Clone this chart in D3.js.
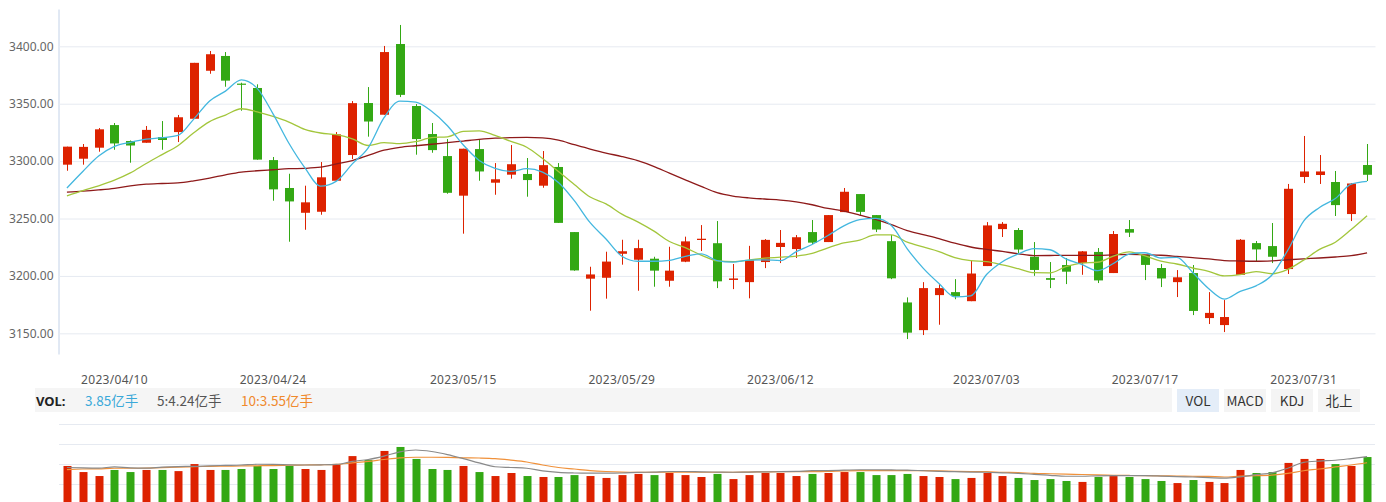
<!DOCTYPE html>
<html><head><meta charset="utf-8">
<script src="https://cdn.jsdelivr.net/npm/d3@7"></script>
<style>
body{margin:0;background:#fff;}
svg{display:block;font-family:"Noto Sans","Noto Sans CJK SC",sans-serif;}
</style>
</head><body>
<svg id="chart" width="1386" height="502"></svg>
<script>
const dates = ["2023/04/04","2023/04/06","2023/04/07","2023/04/10","2023/04/11","2023/04/12","2023/04/13","2023/04/14","2023/04/17","2023/04/18","2023/04/19","2023/04/20","2023/04/21","2023/04/24","2023/04/25","2023/04/26","2023/04/27","2023/04/28",
"2023/05/04","2023/05/05","2023/05/08","2023/05/09","2023/05/10","2023/05/11","2023/05/12","2023/05/15","2023/05/16","2023/05/17","2023/05/18","2023/05/19","2023/05/22","2023/05/23","2023/05/24","2023/05/25","2023/05/26","2023/05/29","2023/05/30","2023/05/31",
"2023/06/01","2023/06/02","2023/06/05","2023/06/06","2023/06/07","2023/06/08","2023/06/09","2023/06/12","2023/06/13","2023/06/14","2023/06/15","2023/06/16","2023/06/19","2023/06/20","2023/06/21","2023/06/26","2023/06/27","2023/06/28","2023/06/29","2023/06/30",
"2023/07/03","2023/07/04","2023/07/05","2023/07/06","2023/07/07","2023/07/10","2023/07/11","2023/07/12","2023/07/13","2023/07/14","2023/07/17","2023/07/18","2023/07/19","2023/07/20","2023/07/21","2023/07/24","2023/07/25","2023/07/26","2023/07/27","2023/07/28","2023/07/31",
"2023/08/01","2023/08/02","2023/08/03","2023/08/04"];

const openP = [3296.9,3302.1,3311.7,3331.4,3317.5,3316.0,3321.0,3325.3,3336.9,3378.7,3391.6,3367.5,3363.7,3300.9,3276.6,3255.0,3255.9,3282.9,
3305.3,3350.6,3340.4,3402.0,3348.0,3323.6,3304.4,3269.9,3310.5,3281.2,3288.2,3288.8,3278.6,3294.9,3238.2,3197.6,3198.4,3219.3,3214.1,3215.0,
3195.8,3212.4,3231.3,3228.5,3196.5,3194.6,3212.1,3225.2,3223.4,3238.2,3229.5,3255.6,3271.3,3253.0,3230.3,3176.9,3152.8,3183.3,3185.9,3178.0,
3208.6,3240.8,3240.0,3216.7,3198.1,3209.5,3211.2,3220.9,3202.5,3240.8,3218.2,3206.9,3194.6,3202.5,3163.3,3157.2,3200.9,3228.6,3226.0,3206.0,3286.2,
3287.9,3281.8,3253.9,3296.6];
const highP = [3312.6,3314.9,3328.8,3333.2,3318.0,3330.6,3334.9,3340.2,3385.6,3395.9,3395.0,3368.3,3366.9,3303.6,3289.0,3278.6,3299.2,3325.3,
3352.3,3364.5,3400.3,3418.6,3349.7,3333.2,3319.2,3310.8,3319.2,3298.3,3314.0,3302.7,3308.8,3298.3,3238.2,3208.0,3221.1,3231.5,3231.5,3216.7,
3225.4,3234.2,3244.3,3247.8,3210.4,3226.2,3232.1,3240.0,3235.6,3248.7,3253.0,3276.6,3271.3,3253.0,3235.6,3181.3,3194.6,3192.9,3197.2,3213.0,
3246.9,3246.9,3241.7,3229.5,3212.1,3215.6,3221.7,3224.3,3239.1,3248.7,3218.2,3210.4,3205.1,3209.5,3185.9,3179.0,3232.1,3230.4,3246.1,3280.1,3321.9,
3305.3,3291.4,3280.9,3314.9];
const lowP = [3291.6,3296.9,3308.2,3309.9,3298.6,3316.0,3309.9,3316.6,3336.9,3376.1,3364.8,3343.9,3301.2,3265.5,3229.8,3240.2,3253.3,3282.9,
3301.8,3321.3,3340.4,3355.8,3305.6,3307.3,3271.6,3236.8,3282.9,3270.7,3284.7,3269.0,3276.8,3246.2,3204.5,3169.7,3180.2,3209.8,3187.1,3190.6,
3190.6,3212.0,3221.7,3189.4,3188.5,3180.5,3206.8,3211.2,3215.6,3227.8,3229.5,3255.6,3252.2,3238.2,3197.2,3145.0,3148.5,3157.5,3179.7,3178.0,
3208.6,3233.9,3220.0,3200.1,3189.4,3192.9,3201.0,3193.8,3202.5,3233.9,3196.4,3190.3,3181.6,3165.9,3158.1,3151.1,3200.9,3213.0,3211.2,3201.7,3280.9,
3280.1,3252.2,3247.8,3282.7];
const closeP = [3312.6,3312.4,3327.7,3315.4,3313.6,3327.2,3318.4,3338.2,3385.6,3393.1,3370.1,3367.0,3301.3,3275.4,3264.9,3264.1,3285.9,3323.3,
3350.5,3334.5,3395.0,3357.7,3319.2,3309.6,3272.4,3310.8,3291.0,3284.2,3297.3,3283.5,3296.5,3246.2,3204.8,3201.3,3212.5,3221.5,3224.2,3204.6,
3204.6,3230.1,3232.4,3195.3,3197.8,3213.6,3231.4,3228.8,3233.7,3229.0,3253.0,3273.3,3255.8,3240.4,3197.9,3150.6,3189.4,3189.4,3182.4,3202.1,
3244.0,3245.4,3223.0,3205.2,3196.6,3203.7,3221.4,3196.1,3236.5,3237.7,3209.6,3197.8,3198.8,3169.5,3167.8,3164.2,3231.5,3223.1,3216.7,3275.9,3291.0,
3291.0,3261.7,3280.5,3288.1];

const ma5 = [3276.6,3291.0,3304.4,3312.8,3316.4,3319.2,3320.4,3322.4,3336.6,3352.4,3361.0,3370.8,3363.4,3341.2,3315.6,3294.4,3278.2,3282.6,3297.6,3311.6,
3337.8,3352.2,3351.4,3343.4,3330.8,3314.0,3300.6,3293.6,3291.0,3293.4,3290.4,3281.4,3265.6,3246.4,3232.2,3217.2,3212.8,3212.8,3213.6,3217.0,
3219.2,3213.4,3212.0,3213.8,3214.0,3213.4,3221.2,3227.4,3235.2,3243.6,3249.0,3250.2,3244.0,3223.6,3206.8,3193.4,3181.8,3182.6,3201.2,3212.4,
3219.2,3223.8,3222.8,3214.8,3210.0,3204.6,3210.8,3219.0,3220.2,3215.6,3216.2,3203.0,3189.0,3179.8,3186.6,3191.4,3200.8,3222.4,3247.8,3259.6,
3267.4,3280.0,3282.4];
const ma10 = [3269.8,3274.4,3278.5,3283.4,3289.7,3297.9,3305.7,3313.4,3324.7,3334.4,3340.1,3345.6,3342.9,3338.9,3334.0,3327.7,3324.5,3323.0,3319.4,3313.6,
3316.1,3315.2,3317.0,3320.5,3321.2,3325.9,3326.4,3322.5,3317.2,3312.1,3302.2,3291.0,3279.6,3268.7,3262.8,3253.8,3247.1,3239.2,3230.0,3224.6,
3218.2,3213.1,3212.4,3213.7,3215.5,3216.3,3217.3,3219.7,3224.5,3228.8,3231.2,3235.7,3235.7,3229.4,3225.2,3221.2,3216.0,3213.3,3212.4,3209.6,
3206.3,3202.8,3202.7,3208.0,3211.2,3211.9,3217.3,3220.9,3217.5,3212.8,3210.4,3206.9,3204.0,3200.0,3201.1,3203.8,3201.9,3205.7,3213.8,3223.1,
3229.4,3240.4,3252.4];
const ma30 = [3273.0,3273.8,3274.9,3276.3,3278.5,3279.9,3280.5,3281.0,3282.8,3285.2,3288.1,3290.5,3291.6,3292.5,3293.4,3293.7,3294.7,3297.6,3300.5,3305.0,
3309.5,3312.0,3313.4,3314.7,3316.1,3317.5,3318.9,3320.0,3320.5,3320.7,3320.2,3318.2,3314.3,3310.5,3307.0,3304.0,3300.4,3295.5,3289.5,3283.7,
3278.0,3272.6,3269.6,3268.0,3267.0,3266.1,3264.5,3262.0,3258.8,3256.5,3253.0,3249.2,3244.7,3239.5,3236.0,3232.5,3228.5,3225.2,3223.1,3221.3,
3219.3,3217.7,3217.8,3217.9,3217.9,3217.9,3218.4,3218.8,3218.4,3218.0,3217.0,3215.9,3214.8,3213.4,3213.0,3212.8,3213.2,3214.1,3214.9,3215.6,
3216.5,3217.6,3220.0];

// volume, 亿手
const volume = [3.37,3.05,2.84,3.16,3.05,3.16,3.16,3.10,3.47,3.16,3.16,3.21,3.37,3.21,3.37,3.21,3.16,3.47,3.89,3.68,
4.16,4.37,3.74,3.21,3.16,3.37,3.05,2.84,3.00,2.84,2.79,2.79,2.89,2.84,2.74,2.89,2.95,2.89,3.00,2.89,
2.79,2.95,2.68,2.89,3.00,3.00,2.84,2.95,3.00,3.05,3.05,2.89,2.89,2.95,2.84,2.79,2.68,2.74,3.00,2.84,
2.74,2.63,2.68,2.58,2.53,2.79,2.84,2.79,2.68,2.58,2.47,2.63,2.53,2.47,3.16,3.00,3.05,3.53,3.74,3.74,
3.47,3.37,3.84];
const volMa5 = [3.29,3.27,3.26,3.32,3.27,3.26,3.31,3.34,3.35,3.38,3.40,3.42,3.46,3.45,3.43,3.42,3.43,3.45,3.61,3.71,
3.89,4.11,4.21,4.13,3.97,3.76,3.53,3.33,3.29,3.25,3.11,3.03,3.00,2.99,2.99,3.00,3.03,3.05,3.08,3.08,
3.06,3.05,3.04,3.05,3.06,3.07,3.09,3.12,3.13,3.15,3.17,3.17,3.16,3.15,3.12,3.09,3.07,3.05,3.04,3.01,
2.98,2.93,2.88,2.83,2.83,2.85,2.86,2.86,2.86,2.84,2.81,2.79,2.76,2.73,2.80,2.91,3.01,3.25,3.56,3.63,
3.67,3.76,3.86];
const volMa10 = [3.18,3.21,3.22,3.25,3.25,3.26,3.28,3.31,3.33,3.35,3.36,3.37,3.38,3.39,3.41,3.42,3.43,3.45,3.53,3.61,
3.71,3.80,3.83,3.83,3.82,3.80,3.79,3.76,3.68,3.58,3.42,3.29,3.21,3.13,3.08,3.05,3.04,3.04,3.04,3.04,
3.04,3.04,3.04,3.05,3.06,3.07,3.07,3.07,3.08,3.11,3.12,3.12,3.12,3.12,3.12,3.11,3.09,3.08,3.07,3.04,
3.02,2.98,2.96,2.94,2.92,2.90,2.88,2.87,2.86,2.85,2.84,2.83,2.82,2.79,2.84,2.86,2.89,2.98,3.12,3.21,
3.32,3.42,3.54];

const priceTicks = [3150,3200,3250,3300,3350,3400];
const dateTicks = ["2023/04/10","2023/04/24","2023/05/15","2023/05/29","2023/06/12","2023/07/03","2023/07/17","2023/07/31"];
const legendItems = [
  {text:"3.85亿手", color:"#3ba9d9", x:85},
  {text:"5:4.24亿手", color:"#555555", x:157},
  {text:"10:3.55亿手", color:"#f0892c", x:241}
];
const buttons = ["VOL","MACD","KDJ","北上"];

const UP = "#dd2200", DOWN = "#33a814";
const svg = d3.select("#chart");

const x = d3.scaleBand().domain(dates).range([59, 1375]);
const cx = d => x(d) + x.bandwidth() / 2;
const y = d3.scaleLinear().domain([3132, 3432.5]).range([354, 9]);

// price grid + axis
const yAxis = svg.append("g").attr("transform", "translate(58.5,0)")
  .call(d3.axisLeft(y).tickValues(priceTicks).tickFormat(d3.format(".2f")).tickSize(-1317).tickSizeOuter(0).tickPadding(5));
yAxis.select(".domain").attr("stroke", "#c3d2e8");
yAxis.selectAll(".tick line").attr("stroke", "#e6eaf1");
yAxis.selectAll(".tick text").attr("fill", "#666").style("font-size", "12px").style("font-family", '"Noto Sans",sans-serif');

// x labels
const xAxis = svg.append("g").attr("transform", "translate(0,370)")
  .call(d3.axisBottom(x).tickValues(dateTicks).tickSize(0).tickPadding(5));
xAxis.select(".domain").remove();
xAxis.selectAll(".tick text").attr("fill", "#555").style("font-size", "12px").style("letter-spacing", "0.3px").style("font-family", '"Noto Sans",sans-serif');

const rows = dates.map((d, i) => ({d, o: openP[i], h: highP[i], l: lowP[i], c: closeP[i], v: volume[i]}));
const colorOf = r => r.c >= r.o ? UP : DOWN;

// candles
const cg = svg.append("g");
cg.selectAll("line").data(rows).join("line")
  .attr("x1", r => Math.round(cx(r.d)) + 0.5).attr("x2", r => Math.round(cx(r.d)) + 0.5)
  .attr("y1", r => y(r.h)).attr("y2", r => y(r.l))
  .attr("stroke", colorOf).attr("stroke-width", 1);
cg.selectAll("rect").data(rows).join("rect")
  .attr("x", r => Math.round(cx(r.d)) - 4).attr("width", 9)
  .attr("y", r => y(Math.max(r.o, r.c)))
  .attr("height", r => Math.max(1.2, Math.abs(y(r.o) - y(r.c))))
  .attr("fill", colorOf);

// MA lines
const lineGen = arr => d3.line().x((v, i) => cx(dates[i])).y(v => y(v)).curve(d3.curveMonotoneX)(arr);
[[ma30, "#8e1a1a"], [ma10, "#a3c63c"], [ma5, "#43b7df"]].forEach(([arr, col]) => {
  svg.append("path").attr("d", lineGen(arr)).attr("fill", "none").attr("stroke", col).attr("stroke-width", 1.3);
});

// legend bar
svg.append("rect").attr("x", 35).attr("y", 388).attr("width", 1137).attr("height", 24).attr("fill", "#f5f5f5");
svg.append("text").attr("x", 36).attr("y", 405.5).text("VOL:")
  .attr("fill", "#222").style("font-weight", "bold").style("font-size", "13px");
svg.selectAll(".leg").data(legendItems).join("text").attr("class", "leg")
  .attr("x", d => d.x).attr("y", 405.5).text(d => d.text).attr("fill", d => d.color)
  .style("font-size", "13.5px").style("font-family", '"Noto Sans CJK SC","Noto Sans",sans-serif');

// buttons
const bg = svg.selectAll(".btn").data(buttons).join("g").attr("class", "btn")
  .attr("transform", (d, i) => `translate(${1177 + i * 47},389)`);
bg.append("rect").attr("width", 42).attr("height", 23).attr("fill", (d, i) => i === 0 ? "#e4edf8" : "#f4f4f4");
bg.append("text").attr("x", 21).attr("y", 16.5).attr("text-anchor", "middle").text(d => d)
  .attr("fill", "#333").style("font-size", "13.5px").style("font-family", '"Noto Sans CJK SC","Noto Sans",sans-serif');

// volume panel
const volGrid = d3.scaleLinear().domain([0, 5]).range([504, 404]);
svg.append("g").selectAll("line").data([1, 2, 3, 4]).join("line")
  .attr("x1", 59).attr("x2", 1375).attr("y1", d => volGrid(d) + 0.5).attr("y2", d => volGrid(d) + 0.5)
  .attr("stroke", "#e6eaf1");
const vy = d3.scaleLinear().domain([0, 6]).range([530, 416]);
svg.append("g").selectAll("rect").data(rows).join("rect")
  .attr("x", r => Math.round(cx(r.d)) - 3.5).attr("width", 8)
  .attr("y", r => vy(r.v)).attr("height", r => 502 - vy(r.v))
  .attr("fill", colorOf);
const vLine = arr => d3.line().x((v, i) => cx(dates[i])).y(v => vy(v)).curve(d3.curveMonotoneX)(arr);
[[volMa10, "#f0913a"], [volMa5, "#8a8a8a"]].forEach(([arr, col]) => {
  svg.append("path").attr("d", vLine(arr)).attr("fill", "none").attr("stroke", col).attr("stroke-width", 1.2);
});
</script>
</body></html>
